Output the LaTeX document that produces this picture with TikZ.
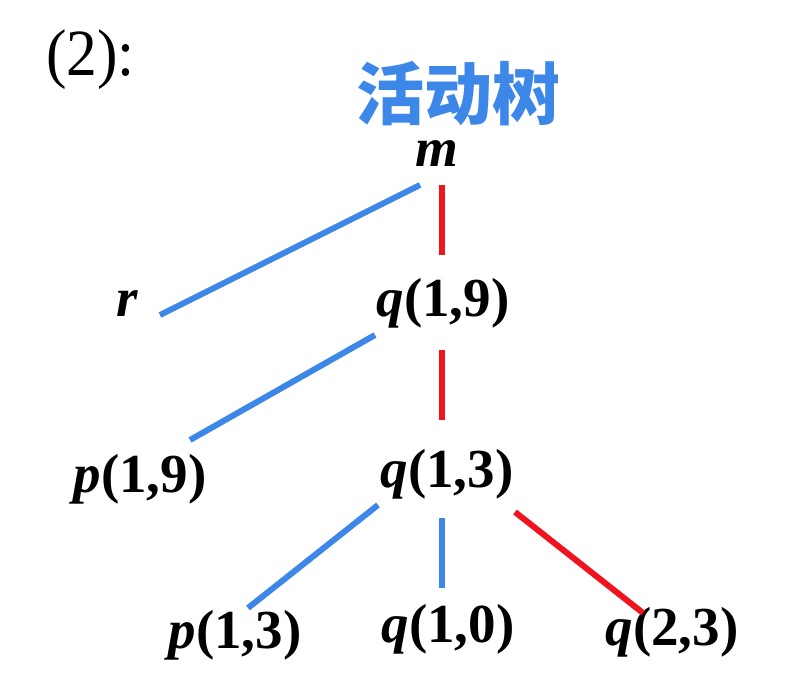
\documentclass[tikz,border=0pt]{standalone}
\usepackage{fontspec}
\setmainfont{Liberation Serif}
\newfontfamily\cjk{Noto Sans CJK SC}
\definecolor{tblue}{HTML}{3D87E8}
\definecolor{tred}{HTML}{F0141E}
\begin{document}
\begin{tikzpicture}[x=1pt,y=-1pt,
  lab/.style={anchor=base,inner sep=0pt,font=\fontsize{55}{60}\selectfont\bfseries},
  bl/.style={tblue,line width=6pt},
  rd/.style={tred,line width=6pt}]
\useasboundingbox (0,0) rectangle (812,683);
\node[anchor=base west,inner sep=0pt,font=\fontsize{66}{70}\selectfont] (lbl) at (46,75) {\scalebox{0.93}[1]{(2):}};
\node[inner sep=0pt,text=tblue,font=\cjk\fontsize{68}{72}\selectfont\bfseries] (title) at (458,94) {活动树};
\node[lab] (m) at (437,166) {\itshape m};
\node[lab] (r) at (127,316) {\itshape r};
\node[lab] (q19) at (443,316) {\textit{q}(1,9)};
\node[lab] (p19) at (140,492) {\textit{p}(1,9)};
\node[lab] (q13) at (447,487) {\textit{q}(1,3)};
\node[lab] (p13) at (235,648) {\textit{p}(1,3)};
\node[lab] (q10) at (448,642) {\textit{q}(1,0)};
\node[lab] (q23) at (672,645) {\textit{q}(2,3)};
\draw[bl] ([shift={(-17,19)}]m.base) -- ([shift={(33,-1)}]r.base);
\draw[rd] ([shift={(5,19)}]m.base) -- ([shift={(-1,-61)}]q19.base);
\draw[bl] ([shift={(-68,19)}]q19.base) -- ([shift={(50,-52)}]p19.base);
\draw[rd] ([shift={(-1,34)}]q19.base) -- ([shift={(-5,-67)}]q13.base);
\draw[bl] ([shift={(-69,18)}]q13.base) -- ([shift={(13,-40)}]p13.base);
\draw[bl] ([shift={(-5,31)}]q13.base) -- ([shift={(-6,-54)}]q10.base);
\draw[rd] ([shift={(68,25)}]q13.base) -- ([shift={(-29,-32)}]q23.base);
\end{tikzpicture}
\end{document}
